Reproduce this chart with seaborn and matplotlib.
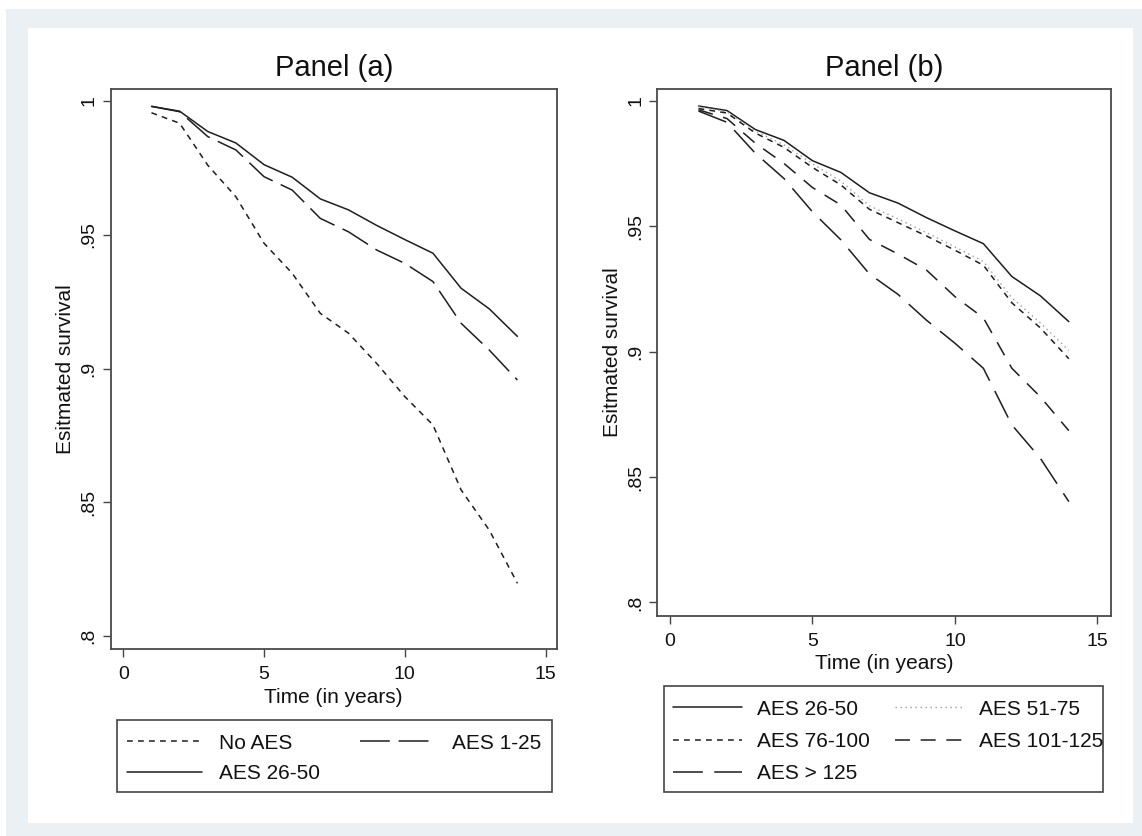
import matplotlib
matplotlib.use("Agg")
import matplotlib.pyplot as plt
import seaborn as sns
import pandas as pd
from matplotlib.patches import Rectangle
from matplotlib.ticker import FixedLocator, FixedFormatter

# ---------------- data ----------------
years = [1, 2, 3, 4, 5, 6, 7, 8, 9, 10, 11, 12, 13, 14]

# Panel (a)
no_aes = [0.9956, 0.9917, 0.9760, 0.9642, 0.9468, 0.9356, 0.9206, 0.9132,
          0.9019, 0.8895, 0.8789, 0.8546, 0.8396, 0.8197]
aes_1_25 = [0.9980, 0.9960, 0.9867, 0.9817, 0.9717, 0.9667, 0.9561, 0.9511,
            0.9443, 0.9393, 0.9325, 0.9169, 0.9069, 0.8957]
aes_26_50 = [0.9980, 0.9962, 0.9886, 0.9843, 0.9762, 0.9715, 0.9634, 0.9593,
             0.9535, 0.9482, 0.9431, 0.9300, 0.9223, 0.9120]

# Panel (b)
aes_51_75 = [0.9978, 0.9957, 0.9880, 0.9825, 0.9750, 0.9680, 0.9582, 0.9530,
             0.9475, 0.9418, 0.9360, 0.9215, 0.9115, 0.9005]
aes_76_100 = [0.9970, 0.9952, 0.9872, 0.9815, 0.9735, 0.9665, 0.9568, 0.9515,
              0.9462, 0.9405, 0.9345, 0.9195, 0.9095, 0.8972]
aes_101_125 = [0.9965, 0.9930, 0.9831, 0.9751, 0.9655, 0.9585, 0.9448, 0.9390,
               0.9326, 0.9220, 0.9135, 0.8934, 0.8820, 0.8685]
aes_gt_125 = [0.9960, 0.9915, 0.9791, 0.9691, 0.9558, 0.9446, 0.9310, 0.9229,
              0.9126, 0.9034, 0.8934, 0.8708, 0.8575, 0.8402]

x_ticks = [0, 5, 10, 15]
x_tick_labels = ["0", "5", "10", "15"]
y_ticks = [0.80, 0.85, 0.90, 0.95, 1.00]
y_tick_labels = [".8", ".85", ".9", ".95", "1"]

panel_a_series = {"No AES": no_aes, "AES 1-25": aes_1_25, "AES 26-50": aes_26_50}
panel_b_series = {"AES 26-50": aes_26_50, "AES 51-75": aes_51_75,
                  "AES 76-100": aes_76_100, "AES 101-125": aes_101_125,
                  "AES > 125": aes_gt_125}

# ---------------- style ----------------
sns.set_theme(style="white")
plt.rcParams["font.family"] = ["Liberation Sans", "DejaVu Sans"]

LW = 1.1
INK = "#1e1e1e"
styles = {
    "No AES":      dict(color=INK, lw=LW, ls=(0, (3.8, 3.4))),
    "AES 1-25":    dict(color=INK, lw=LW, ls=(0, (19.5, 5.8))),
    "AES 26-50":   dict(color=INK, lw=LW, ls="-"),
    "AES 51-75":   dict(color="#9c9c9c", lw=1.0, ls=(0, (1.0, 2.6))),
    "AES 76-100":  dict(color=INK, lw=LW, ls=(0, (3.8, 3.4))),
    "AES 101-125": dict(color=INK, lw=LW, ls=(0, (9.8, 7.0))),
    "AES > 125":   dict(color=INK, lw=LW, ls=(0, (19.5, 7.5))),
}

W, H = 1142, 836
fig = plt.figure(figsize=(W / 100, H / 100), dpi=100, facecolor="white")


def fx(px):
    return px / W


def fy(py):
    return 1 - py / H


# Stata-like outer frame
fig.add_artist(Rectangle((fx(6), 0), 1 - fx(6), fy(9), transform=fig.transFigure,
                         facecolor="#EAF0F3", edgecolor="none", zorder=-10))
fig.add_artist(Rectangle((fx(28), fy(823)), fx(1133) - fx(28), fy(28) - fy(823),
                         transform=fig.transFigure, facecolor="white",
                         edgecolor="none", zorder=-9))

axA = fig.add_axes([fx(110.7), fy(649), (556.7 - 110.7) / W, (649 - 89) / H])
axB = fig.add_axes([fx(657.3), fy(615.7), (1110.7 - 657.3) / W, (615.7 - 89) / H])


def draw(ax, series, title, xlim, ylim):
    for name, vals in series.items():
        df = pd.DataFrame({"t": years, "s": vals})
        st = styles[name]
        sns.lineplot(data=df, x="t", y="s", ax=ax, color=st["color"],
                     linewidth=st["lw"], linestyle=st["ls"], label=name,
                     legend=False)
    ax.set_xlim(*xlim)
    ax.set_ylim(*ylim)
    ax.xaxis.set_major_locator(FixedLocator(x_ticks))
    ax.xaxis.set_major_formatter(FixedFormatter(x_tick_labels))
    ax.yaxis.set_major_locator(FixedLocator(y_ticks))
    ax.yaxis.set_major_formatter(FixedFormatter(y_tick_labels))
    ax.tick_params(axis="both", bottom=True, left=True, direction="out",
                   length=6, width=1.0, color="#444444", labelsize=14,
                   labelcolor="#111111")
    ax.tick_params(axis="x", pad=6.5)
    ax.tick_params(axis="y", pad=3.5, labelrotation=90)
    for lab in ax.get_yticklabels():
        lab.set_va("center")
    for sp in ax.spines.values():
        sp.set_color("#4a4a4a")
        sp.set_linewidth(1.3)
    ax.set_facecolor("white")
    ax.set_xlabel("Time (in years)", fontsize=15, color="#111111", labelpad=3)
    ax.set_ylabel("Esitmated survival", fontsize=15, color="#111111", labelpad=4)
    ax.set_title(title, fontsize=21, color="#111111", pad=9)


draw(axA, panel_a_series, "Panel (a)", (-0.448, 15.396), (0.79514, 1.00449))
draw(axB, panel_b_series, "Panel (b)", (-0.446, 15.47), (0.7947, 1.00479))


def make_legend(ax, order, box, content_left, content_right, first_row_center,
                spacing, hlen, hpad):
    # frame drawn separately
    bl, bt, br, bb = box
    fig.add_artist(Rectangle((fx(bl), fy(bb)), fx(br) - fx(bl), fy(bt) - fy(bb),
                             transform=fig.transFigure, facecolor="white",
                             edgecolor="#444444", linewidth=1.2, zorder=1))
    h, l = ax.get_legend_handles_labels()
    lookup = dict(zip(l, h))
    top = first_row_center - 9.3
    leg = fig.legend([lookup[n] for n in order], order, loc="upper left",
                     bbox_to_anchor=(fx(content_left), fy(bb),
                                     fx(content_right) - fx(content_left),
                                     fy(top) - fy(bb)),
                     mode="expand", ncol=2, frameon=False, borderaxespad=0,
                     fontsize=15, handlelength=hlen, handletextpad=hpad,
                     labelspacing=spacing, borderpad=0)
    leg.set_zorder(2)
    for t in leg.get_texts():
        t.set_color("#111111")
    return leg


make_legend(axA, ["No AES", "AES 26-50", "AES 1-25"],
            (117, 720, 552, 792), 127, 541, 743, 0.55, 3.6, 0.82)
make_legend(axB, ["AES 26-50", "AES 76-100", "AES > 125", "AES 51-75", "AES 101-125"],
            (664, 686, 1103, 792), 673, 1103, 709, 0.64, 3.3, 0.74)

fig.savefig("out.png", dpi=100, facecolor="white")
